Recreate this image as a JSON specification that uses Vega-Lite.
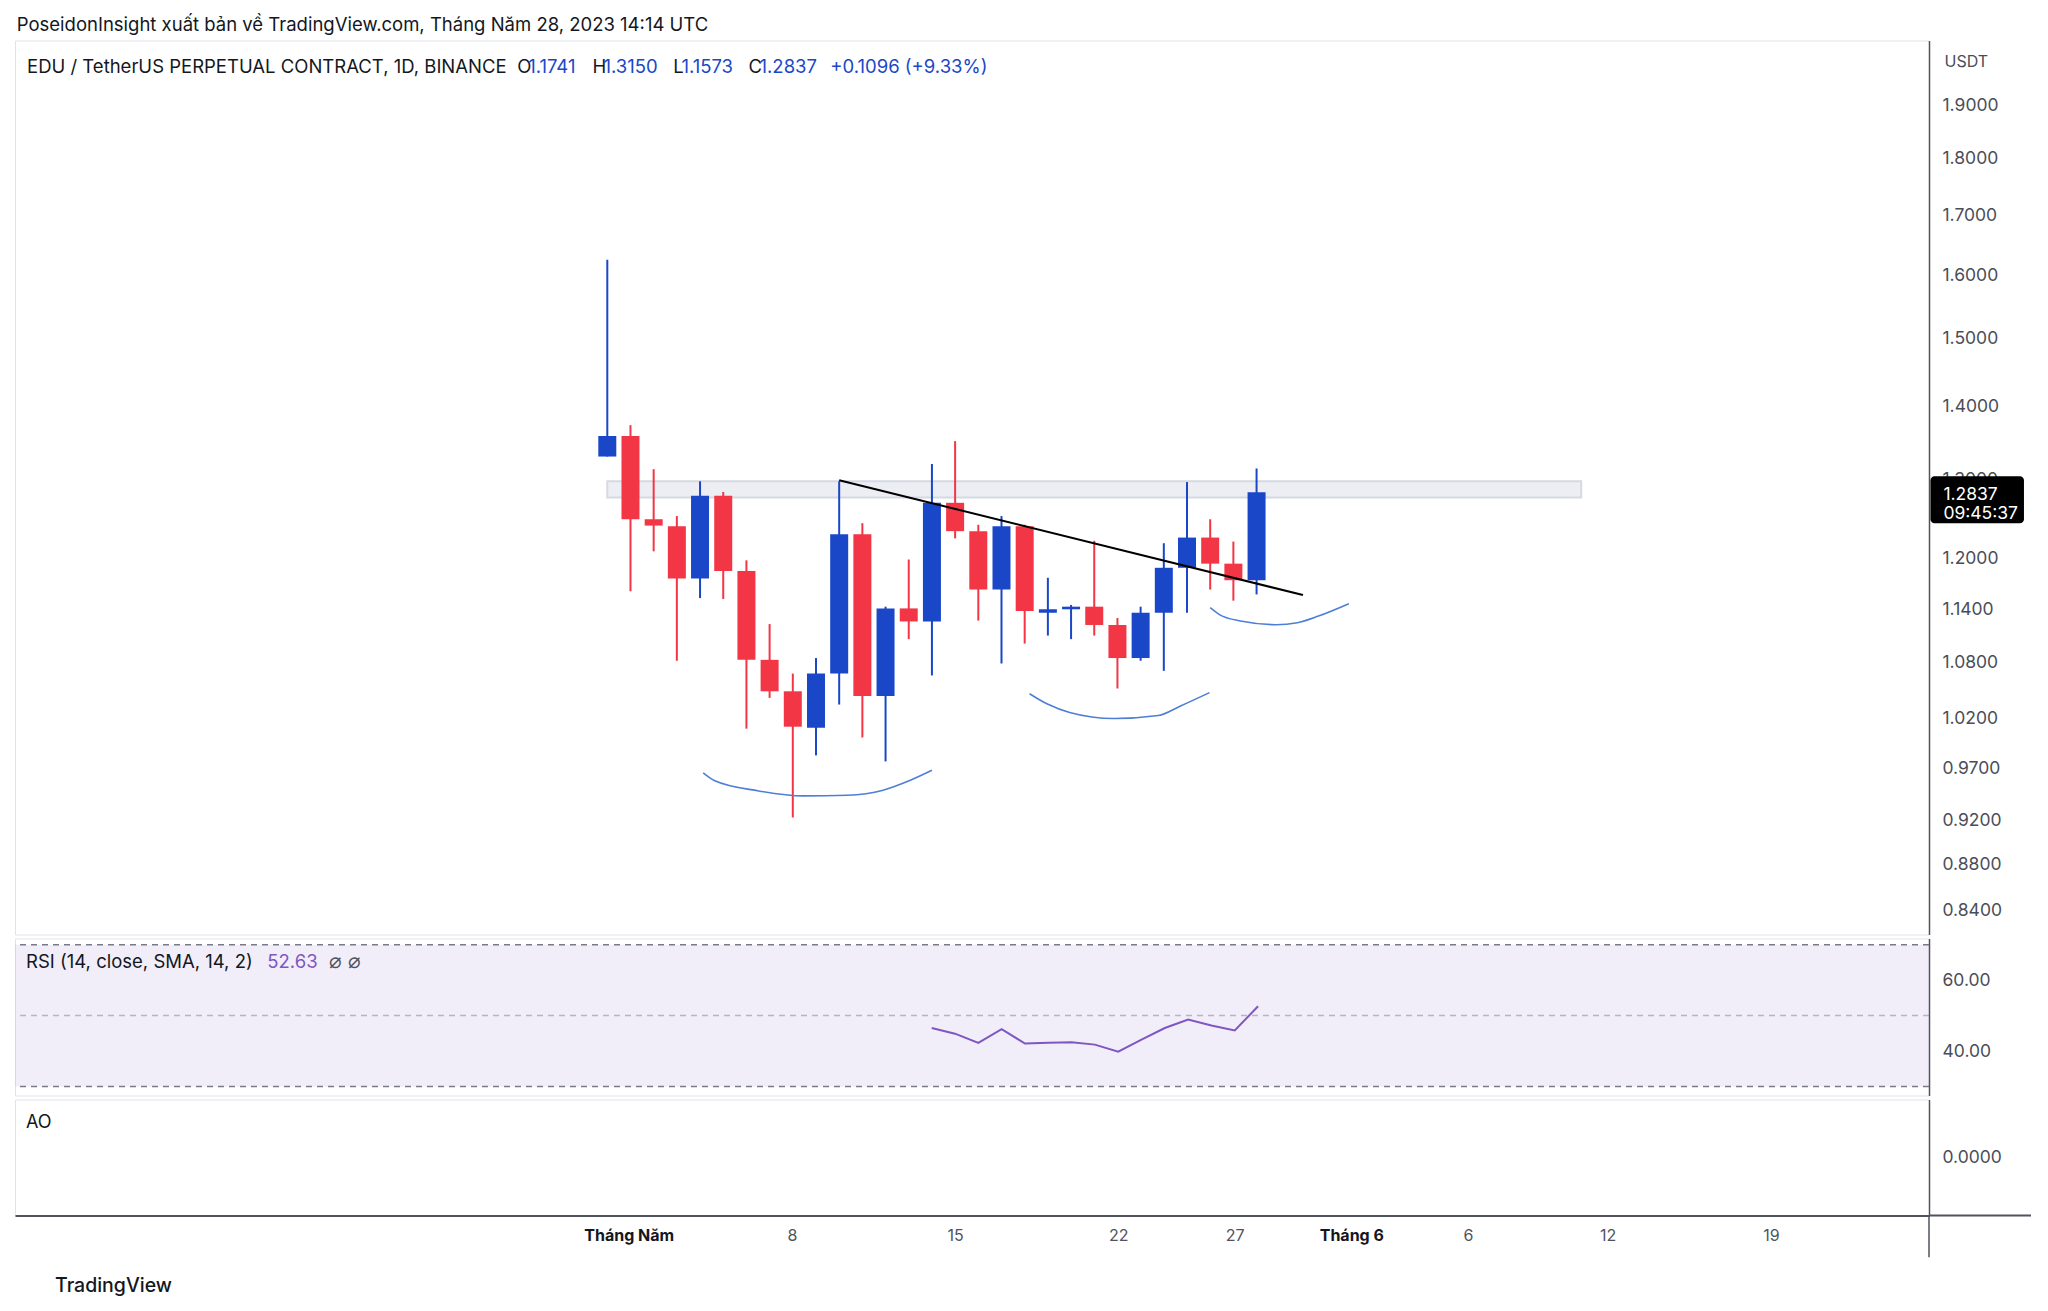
{
  "$schema": "https://vega.github.io/schema/vega-lite/v6.json",
  "background": "white",
  "padding": {"left": 13, "top": 15.5, "right": 0, "bottom": 0},
  "title": {"text": "PoseidonInsight xuất bản về TradingView.com, Tháng Năm 28, 2023 14:14 UTC", "anchor": "start", "frame": "bounds", "font": "Inter", "fontSize": 18.5, "fontWeight": "normal", "color": "#131722", "offset": 5.5, "dx": 3},
  "config": {
    "view": {"stroke": "#e0e3eb", "strokeWidth": 1},
    "axis": {"grid": false, "ticks": false, "labelFont": "Inter", "titleFont": "Inter"},
    "text": {"font": "Inter"}
  },
  "spacing": 2,
  "datasets": {
    "candles": [
      {"date": "2023-04-30", "o": 1.331, "h": 1.625, "l": 1.331, "c": 1.359},
      {"date": "2023-05-01", "o": 1.359, "h": 1.374, "l": 1.161, "c": 1.249},
      {"date": "2023-05-02", "o": 1.249, "h": 1.314, "l": 1.209, "c": 1.241},
      {"date": "2023-05-03", "o": 1.240, "h": 1.253, "l": 1.082, "c": 1.176},
      {"date": "2023-05-04", "o": 1.176, "h": 1.298, "l": 1.153, "c": 1.279},
      {"date": "2023-05-05", "o": 1.279, "h": 1.284, "l": 1.152, "c": 1.185},
      {"date": "2023-05-06", "o": 1.185, "h": 1.198, "l": 1.010, "c": 1.083},
      {"date": "2023-05-07", "o": 1.083, "h": 1.123, "l": 1.042, "c": 1.049},
      {"date": "2023-05-08", "o": 1.049, "h": 1.068, "l": 0.923, "c": 1.012},
      {"date": "2023-05-09", "o": 1.011, "h": 1.085, "l": 0.983, "c": 1.068},
      {"date": "2023-05-10", "o": 1.068, "h": 1.298, "l": 1.035, "c": 1.230},
      {"date": "2023-05-11", "o": 1.230, "h": 1.244, "l": 1.001, "c": 1.044},
      {"date": "2023-05-12", "o": 1.044, "h": 1.143, "l": 0.977, "c": 1.141},
      {"date": "2023-05-13", "o": 1.141, "h": 1.199, "l": 1.106, "c": 1.126},
      {"date": "2023-05-14", "o": 1.126, "h": 1.321, "l": 1.066, "c": 1.270},
      {"date": "2023-05-15", "o": 1.270, "h": 1.352, "l": 1.225, "c": 1.234},
      {"date": "2023-05-16", "o": 1.234, "h": 1.242, "l": 1.127, "c": 1.163},
      {"date": "2023-05-17", "o": 1.163, "h": 1.253, "l": 1.079, "c": 1.240},
      {"date": "2023-05-18", "o": 1.240, "h": 1.242, "l": 1.101, "c": 1.138},
      {"date": "2023-05-19", "o": 1.136, "h": 1.177, "l": 1.110, "c": 1.140},
      {"date": "2023-05-20", "o": 1.140, "h": 1.145, "l": 1.106, "c": 1.143},
      {"date": "2023-05-21", "o": 1.143, "h": 1.222, "l": 1.110, "c": 1.122},
      {"date": "2023-05-22", "o": 1.122, "h": 1.130, "l": 1.052, "c": 1.085},
      {"date": "2023-05-23", "o": 1.085, "h": 1.143, "l": 1.082, "c": 1.136},
      {"date": "2023-05-24", "o": 1.136, "h": 1.219, "l": 1.071, "c": 1.189},
      {"date": "2023-05-25", "o": 1.189, "h": 1.297, "l": 1.136, "c": 1.226},
      {"date": "2023-05-26", "o": 1.226, "h": 1.249, "l": 1.163, "c": 1.194},
      {"date": "2023-05-27", "o": 1.194, "h": 1.221, "l": 1.150, "c": 1.1741},
      {"date": "2023-05-28", "o": 1.1741, "h": 1.315, "l": 1.1573, "c": 1.2837}
    ],
    "trend": [
      {"date": "2023-05-10", "p": 1.2994},
      {"date": "2023-05-30", "p": 1.1566}
    ],
    "arcs": [
      {"arc": 1, "date": "2023-05-04T03:16:00Z", "p": 0.9656},
      {"arc": 1, "date": "2023-05-04T14:41:00Z", "p": 0.9582},
      {"arc": 1, "date": "2023-05-06T12:43:00Z", "p": 0.9482},
      {"arc": 1, "date": "2023-05-08T10:38:00Z", "p": 0.9434},
      {"arc": 1, "date": "2023-05-10T08:40:00Z", "p": 0.9441},
      {"arc": 1, "date": "2023-05-11T21:25:00Z", "p": 0.9489},
      {"arc": 1, "date": "2023-05-13T01:00:00Z", "p": 0.9582},
      {"arc": 1, "date": "2023-05-14T00:00:00Z", "p": 0.9682},
      {"arc": 2, "date": "2023-05-18T05:02:00Z", "p": 1.0464},
      {"arc": 2, "date": "2023-05-18T23:31:00Z", "p": 1.0355},
      {"arc": 2, "date": "2023-05-19T22:34:00Z", "p": 1.0267},
      {"arc": 2, "date": "2023-05-21T20:24:00Z", "p": 1.0204},
      {"arc": 2, "date": "2023-05-23T18:29:00Z", "p": 1.0235},
      {"arc": 2, "date": "2023-05-24T17:17:00Z", "p": 1.0335},
      {"arc": 2, "date": "2023-05-25T23:17:00Z", "p": 1.0476},
      {"arc": 3, "date": "2023-05-26T00:00:00Z", "p": 1.1418},
      {"arc": 3, "date": "2023-05-26T09:07:00Z", "p": 1.1342},
      {"arc": 3, "date": "2023-05-27T07:26:00Z", "p": 1.1265},
      {"arc": 3, "date": "2023-05-28T20:10:00Z", "p": 1.1223},
      {"arc": 3, "date": "2023-05-29T18:14:00Z", "p": 1.1246},
      {"arc": 3, "date": "2023-05-30T16:05:00Z", "p": 1.1322},
      {"arc": 3, "date": "2023-05-31T23:31:00Z", "p": 1.1465}
    ],
    "rsi": [
      {"date": "2023-05-14", "rsi": 46.5},
      {"date": "2023-05-15", "rsi": 44.9},
      {"date": "2023-05-16", "rsi": 42.3},
      {"date": "2023-05-17", "rsi": 46.2},
      {"date": "2023-05-18", "rsi": 42.1},
      {"date": "2023-05-19", "rsi": 42.3},
      {"date": "2023-05-20", "rsi": 42.5},
      {"date": "2023-05-21", "rsi": 41.8},
      {"date": "2023-05-22", "rsi": 39.8},
      {"date": "2023-05-23", "rsi": 43.2},
      {"date": "2023-05-24", "rsi": 46.5},
      {"date": "2023-05-25", "rsi": 48.9},
      {"date": "2023-05-26", "rsi": 47.2},
      {"date": "2023-05-27", "rsi": 45.8},
      {"date": "2023-05-28", "rsi": 52.63}
    ]
  },
  "vconcat": [
    {
      "width": 1914,
      "height": 894,
      "layer": [
        {
          "data": {"values": [{}]},
          "mark": {"type": "rect", "fill": "#eceef4", "stroke": "#d6d9e2", "strokeWidth": 2},
          "encoding": {
            "x": {"datum": 1682812800000, "type": "temporal", "scale": {"type": "utc", "domain": [1680624547000, 1687718851000]}, "axis": null},
            "x2": {"datum": 1686441600000},
            "y": {"datum": 1.298, "type": "quantitative", "scale": {"type": "log", "domain": [0.8197, 2.0297], "nice": false, "zero": false}},
            "y2": {"datum": 1.277}
          }
        },
        {
          "data": {"name": "candles"},
          "mark": {"type": "rule", "strokeWidth": 2},
          "encoding": {
            "x": {"field": "date", "type": "temporal", "axis": null},
            "y": {"field": "l", "type": "quantitative", "axis": {"orient": "right", "values": [0.84, 0.88, 0.92, 0.97, 1.02, 1.08, 1.14, 1.2, 1.3, 1.4, 1.5, 1.6, 1.7, 1.8, 1.9], "format": ".4f", "labelFontSize": 17.5, "labelColor": "#4a4d57", "labelPadding": 13, "domainColor": "#50535e", "domainWidth": 1.5, "title": "USDT", "titleAngle": 0, "titleAlign": "left", "titleBaseline": "middle", "titleX": 15, "titleY": 20.5, "titleFontSize": 16, "titleFontWeight": "normal", "titleColor": "#4a4d57"}},
            "y2": {"field": "h"},
            "color": {"condition": {"test": "datum.c >= datum.o", "value": "#1a47c8"}, "value": "#f23645"}
          }
        },
        {
          "data": {"name": "candles"},
          "mark": {"type": "bar", "size": 18},
          "encoding": {
            "x": {"field": "date", "type": "temporal"},
            "y": {"field": "o", "type": "quantitative"},
            "y2": {"field": "c"},
            "color": {"condition": {"test": "datum.c >= datum.o", "value": "#1a47c8"}, "value": "#f23645"}
          }
        },
        {
          "data": {"name": "trend"},
          "mark": {"type": "line", "color": "#000000", "strokeWidth": 2},
          "encoding": {
            "x": {"field": "date", "type": "temporal"},
            "y": {"field": "p", "type": "quantitative"}
          }
        },
        {
          "data": {"name": "arcs"},
          "mark": {"type": "line", "color": "#4d7fd6", "strokeWidth": 1.6, "interpolate": "monotone"},
          "encoding": {
            "x": {"field": "date", "type": "temporal"},
            "y": {"field": "p", "type": "quantitative"},
            "detail": {"field": "arc"}
          }
        },
        {
          "data": {"values": [{"t": "EDU / TetherUS PERPETUAL CONTRACT, 1D, BINANCE"}]},
          "mark": {"type": "text", "align": "left", "baseline": "middle", "fontSize": 18.5, "color": "#131722"},
          "encoding": {"x": {"datum": 1680650754000, "type": "temporal"}, "y": {"datum": 1.975, "type": "quantitative"}, "text": {"field": "t"}}
        },
        {
          "data": {"values": [{"t": "O"}]},
          "mark": {"type": "text", "align": "left", "baseline": "middle", "fontSize": 18.5, "color": "#131722"},
          "encoding": {"x": {"datum": 1682477748000, "type": "temporal"}, "y": {"datum": 1.975, "type": "quantitative"}, "text": {"field": "t"}}
        },
        {
          "data": {"values": [{"t": "1.1741"}]},
          "mark": {"type": "text", "align": "left", "baseline": "middle", "fontSize": 18.5, "color": "#1a47c8"},
          "encoding": {"x": {"datum": 1682518000000, "type": "temporal"}, "y": {"datum": 1.975, "type": "quantitative"}, "text": {"field": "t"}}
        },
        {
          "data": {"values": [{"t": "H"}]},
          "mark": {"type": "text", "align": "left", "baseline": "middle", "fontSize": 18.5, "color": "#131722"},
          "encoding": {"x": {"datum": 1682758008000, "type": "temporal"}, "y": {"datum": 1.975, "type": "quantitative"}, "text": {"field": "t"}}
        },
        {
          "data": {"values": [{"t": "1.3150"}]},
          "mark": {"type": "text", "align": "left", "baseline": "middle", "fontSize": 18.5, "color": "#1a47c8"},
          "encoding": {"x": {"datum": 1682798500000, "type": "temporal"}, "y": {"datum": 1.975, "type": "quantitative"}, "text": {"field": "t"}}
        },
        {
          "data": {"values": [{"t": "L"}]},
          "mark": {"type": "text", "align": "left", "baseline": "middle", "fontSize": 18.5, "color": "#131722"},
          "encoding": {"x": {"datum": 1683058176000, "type": "temporal"}, "y": {"datum": 1.975, "type": "quantitative"}, "text": {"field": "t"}}
        },
        {
          "data": {"values": [{"t": "1.1573"}]},
          "mark": {"type": "text", "align": "left", "baseline": "middle", "fontSize": 18.5, "color": "#1a47c8"},
          "encoding": {"x": {"datum": 1683089000000, "type": "temporal"}, "y": {"datum": 1.975, "type": "quantitative"}, "text": {"field": "t"}}
        },
        {
          "data": {"values": [{"t": "C"}]},
          "mark": {"type": "text", "align": "left", "baseline": "middle", "fontSize": 18.5, "color": "#131722"},
          "encoding": {"x": {"datum": 1683338796000, "type": "temporal"}, "y": {"datum": 1.975, "type": "quantitative"}, "text": {"field": "t"}}
        },
        {
          "data": {"values": [{"t": "1.2837"}]},
          "mark": {"type": "text", "align": "left", "baseline": "middle", "fontSize": 18.5, "color": "#1a47c8"},
          "encoding": {"x": {"datum": 1683380000000, "type": "temporal"}, "y": {"datum": 1.975, "type": "quantitative"}, "text": {"field": "t"}}
        },
        {
          "data": {"values": [{"t": "+0.1096 (+9.33%)"}]},
          "mark": {"type": "text", "align": "left", "baseline": "middle", "fontSize": 18.5, "color": "#1a47c8"},
          "encoding": {"x": {"datum": 1683643896000, "type": "temporal"}, "y": {"datum": 1.975, "type": "quantitative"}, "text": {"field": "t"}}
        },
        {
          "data": {"values": [{}]},
          "mark": {"type": "rect", "fill": "#000000", "cornerRadius": 4},
          "encoding": {
            "x": {"datum": 1687742941000, "type": "temporal"},
            "x2": {"datum": 1688091306000},
            "y": {"datum": 1.3045, "type": "quantitative"},
            "y2": {"datum": 1.2440}
          }
        },
        {
          "data": {"values": [{"t": "1.2837"}]},
          "mark": {"type": "text", "align": "left", "baseline": "middle", "fontSize": 17.5, "color": "#ffffff"},
          "encoding": {"x": {"datum": 1687791066000, "type": "temporal"}, "y": {"datum": 1.2799, "type": "quantitative"}, "text": {"field": "t"}}
        },
        {
          "data": {"values": [{"t": "09:45:37"}]},
          "mark": {"type": "text", "align": "left", "baseline": "middle", "fontSize": 17.5, "color": "#ffffff"},
          "encoding": {"x": {"datum": 1687791066000, "type": "temporal"}, "y": {"datum": 1.2554, "type": "quantitative"}, "text": {"field": "t"}}
        }
      ]
    },
    {
      "width": 1914,
      "height": 157,
      "layer": [
        {
          "data": {"values": [{}]},
          "mark": {"type": "rect", "fill": "#7e57c2", "opacity": 0.1},
          "encoding": {
            "y": {"datum": 70, "type": "quantitative", "scale": {"domain": [27.43, 71.78], "nice": false, "zero": false}, "axis": {"orient": "right", "values": [40, 60], "format": ".2f", "labelFontSize": 17.5, "labelColor": "#4a4d57", "labelPadding": 13, "domainColor": "#50535e", "domainWidth": 1.5, "title": null}},
            "y2": {"datum": 30}
          }
        },
        {
          "data": {"values": [{}]},
          "mark": {"type": "rule", "color": "#787b86", "strokeWidth": 1.5, "strokeDash": [6, 5]},
          "encoding": {"y": {"datum": 70, "type": "quantitative"}}
        },
        {
          "data": {"values": [{}]},
          "mark": {"type": "rule", "color": "#787b86", "opacity": 0.5, "strokeWidth": 1.5, "strokeDash": [6, 5]},
          "encoding": {"y": {"datum": 50, "type": "quantitative"}}
        },
        {
          "data": {"values": [{}]},
          "mark": {"type": "rule", "color": "#787b86", "strokeWidth": 1.5, "strokeDash": [6, 5]},
          "encoding": {"y": {"datum": 30, "type": "quantitative"}}
        },
        {
          "data": {"name": "rsi"},
          "mark": {"type": "line", "color": "#7e57c2", "strokeWidth": 2},
          "encoding": {
            "x": {"field": "date", "type": "temporal", "scale": {"type": "utc", "domain": [1680624547000, 1687718851000]}, "axis": null},
            "y": {"field": "rsi", "type": "quantitative"}
          }
        },
        {
          "data": {"values": [{"t": "RSI (14, close, SMA, 14, 2)"}]},
          "mark": {"type": "text", "align": "left", "baseline": "middle", "fontSize": 18.5, "color": "#131722"},
          "encoding": {"x": {"datum": 1680665580000, "type": "temporal"}, "y": {"datum": 65.2, "type": "quantitative"}, "text": {"field": "t"}}
        },
        {
          "data": {"values": [{"t": "52.63"}]},
          "mark": {"type": "text", "align": "left", "baseline": "middle", "fontSize": 18.5, "color": "#7e57c2"},
          "encoding": {"x": {"datum": 1681559654000, "type": "temporal"}, "y": {"datum": 65.2, "type": "quantitative"}, "text": {"field": "t"}}
        },
        {
          "data": {"values": [{"t": "⌀     ⌀"}]},
          "mark": {"type": "text", "align": "left", "baseline": "middle", "fontSize": 21, "color": "#50535e"},
          "encoding": {"x": {"datum": 1681788355000, "type": "temporal"}, "y": {"datum": 65.2, "type": "quantitative"}, "text": {"field": "t"}}
        }
      ]
    },
    {
      "width": 1914,
      "height": 116,
      "title": {"text": "TradingView", "orient": "bottom", "anchor": "start", "frame": "bounds", "font": "Inter", "fontSize": 19.5, "fontWeight": 500, "color": "#131722", "offset": 19, "dx": 40},
      "layer": [
        {
          "data": {"values": [{"t": "AO"}]},
          "mark": {"type": "text", "align": "left", "baseline": "middle", "fontSize": 18, "color": "#131722"},
          "encoding": {
            "x": {"datum": 1680665580000, "type": "temporal", "scale": {"type": "utc", "domain": [1680624547000, 1687718851000]}, "axis": {"values": [1682899200000, 1683504000000, 1684108800000, 1684713600000, 1685145600000, 1685577600000, 1686009600000, 1686528000000, 1687132800000], "labelExpr": "utcdate(datum.value) == 1 ? (utcmonth(datum.value) == 4 ? 'Tháng Năm' : 'Tháng 6') : '' + utcdate(datum.value)", "labelFontSize": 16, "labelPadding": 12, "labelFontWeight": {"condition": {"test": "utcdate(datum.value) == 1", "value": "bold"}, "value": "normal"}, "labelColor": {"condition": {"test": "utcdate(datum.value) == 1", "value": "#131722"}, "value": "#50535e"}, "domainColor": "#50535e", "domainWidth": 2, "title": null, "labelOverlap": false}},
            "y": {"datum": 0.59, "type": "quantitative", "scale": {"domain": [-1, 1], "nice": false, "zero": false}, "axis": {"orient": "right", "values": [0], "format": ".4f", "labelFontSize": 17.5, "labelColor": "#4a4d57", "labelPadding": 13, "domainColor": "#50535e", "domainWidth": 1.5, "title": null}},
            "text": {"field": "t"}
          }
        },
        {
          "data": {"values": [{}]},
          "mark": {"type": "rule", "color": "#50535e", "strokeWidth": 2},
          "encoding": {"x": {"datum": 1687718851000, "type": "temporal"}, "x2": {"datum": 1688096851000}, "y": {"datum": -1, "type": "quantitative"}}
        },
        {
          "data": {"values": [{}]},
          "mark": {"type": "rule", "color": "#50535e", "strokeWidth": 1.5},
          "encoding": {"x": {"datum": 1687718851000, "type": "temporal"}, "y": {"datum": -1, "type": "quantitative"}, "y2": {"datum": -1.72}}
        }
      ]
    }
  ]
}
